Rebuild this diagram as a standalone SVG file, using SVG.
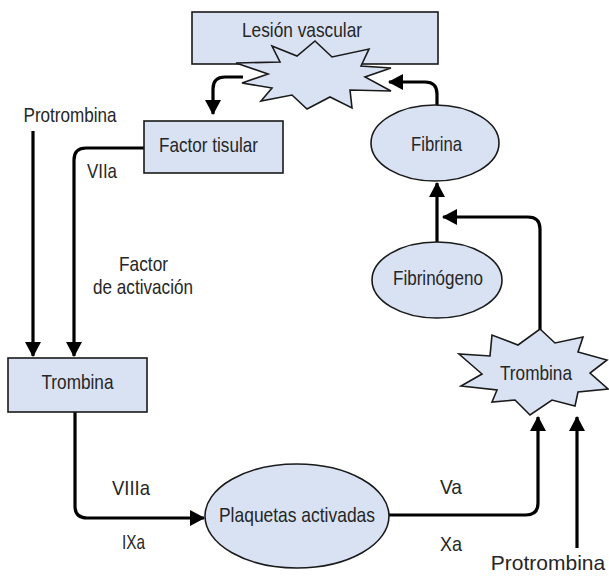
<svg xmlns="http://www.w3.org/2000/svg" width="609" height="576" viewBox="0 0 609 576">
<defs>
<style>
.shape{fill:#d9e2f3;stroke:#1a1a1a;stroke-width:1.6}
.lbl{font-family:"Liberation Sans Narrow","Liberation Sans",Arial,sans-serif;font-size:21px;fill:#262626;text-anchor:middle}
.con{fill:none;stroke:#000;stroke-width:3.2;stroke-linejoin:round}
</style>
<marker id="ah" markerUnits="userSpaceOnUse" markerWidth="16" markerHeight="18" refX="14" refY="8" orient="auto">
<path d="M0,0 L15,8 L0,16 z" fill="#000"/>
</marker>
</defs>
<rect width="609" height="576" fill="#fff"/>

<g id="connectors">
<path class="con" d="M33,131 V356" marker-end="url(#ah)"/>
<path class="con" d="M144,148 H86 Q74,148 74,160 V356" marker-end="url(#ah)"/>
<path class="con" d="M243,77 H225 Q213,77 213,89 V114" marker-end="url(#ah)"/>
<path class="con" d="M437,106 V94 Q437,82 425,82 H389" marker-end="url(#ah)"/>
<path class="con" d="M437,243 V183" marker-end="url(#ah)"/>
<path class="con" d="M540,331 V229 Q540,217 528,217 H443" marker-end="url(#ah)"/>
<path class="con" d="M75,412 V506 Q75,518 87,518 H204" marker-end="url(#ah)"/>
<path class="con" d="M389,515 H526 Q538,515 538,503 V417" marker-end="url(#ah)"/>
<path class="con" d="M577,548 V417" marker-end="url(#ah)"/>
</g>

<g id="lesion">
<rect class="shape" x="192" y="12" width="246" height="52"/>
<polygon class="shape" points="272,46 297,56 315,41 332,57 369,49 361,66 391,68 365,77 391,91 350,90 352,108 330,97 307,109 292,95 261,101 272,88 242,83 268,74 236,63 280,62"/>
<text class="lbl" x="302" y="37" textLength="120" lengthAdjust="spacingAndGlyphs">Lesión vascular</text>
</g>

<g id="protrombina1">
<text class="lbl" x="70" y="122" textLength="93" lengthAdjust="spacingAndGlyphs">Protrombina</text>
</g>

<g id="factor-tisular">
<rect class="shape" x="144" y="121" width="139" height="52"/>
<text class="lbl" x="208.5" y="152" textLength="99" lengthAdjust="spacingAndGlyphs">Factor tisular</text>
</g>

<g id="labels-left">
<text class="lbl" x="102" y="178" textLength="30" lengthAdjust="spacingAndGlyphs">VIIa</text>
<text class="lbl" x="143.5" y="271" textLength="49" lengthAdjust="spacingAndGlyphs">Factor</text>
<text class="lbl" x="143" y="294" textLength="100" lengthAdjust="spacingAndGlyphs">de activación</text>
</g>

<g id="fibrina">
<ellipse class="shape" cx="435" cy="143" rx="64" ry="38"/>
<text class="lbl" x="436.5" y="151" textLength="51" lengthAdjust="spacingAndGlyphs">Fibrina</text>
</g>

<g id="fibrinogeno">
<ellipse class="shape" cx="437" cy="280" rx="65" ry="38"/>
<text class="lbl" x="438" y="285" textLength="90" lengthAdjust="spacingAndGlyphs">Fibrinógeno</text>
</g>

<g id="trombina-rect">
<rect class="shape" x="8" y="358" width="139" height="54"/>
<text class="lbl" x="77.5" y="389" textLength="72" lengthAdjust="spacingAndGlyphs">Trombina</text>
</g>

<g id="labels-bottom">
<text class="lbl" x="131" y="495" textLength="38" lengthAdjust="spacingAndGlyphs">VIIIa</text>
<text class="lbl" x="133.5" y="549" textLength="23" lengthAdjust="spacingAndGlyphs">IXa</text>
<text class="lbl" x="451" y="494" textLength="22" lengthAdjust="spacingAndGlyphs">Va</text>
<text class="lbl" x="451" y="551" textLength="22" lengthAdjust="spacingAndGlyphs">Xa</text>
</g>

<g id="plaquetas">
<ellipse class="shape" cx="297" cy="516" rx="92" ry="52"/>
<text class="lbl" x="297" y="522" textLength="156" lengthAdjust="spacingAndGlyphs">Plaquetas activadas</text>
</g>

<g id="trombina-star">
<polygon class="shape" points="540,329 555,343 583,337 578,352 607,360 590,373 608,389 578,392 575,406 552,400 530,415 515,400 492,402 497,390 461,386 482,374 459,354 490,356 492,335 518,345"/>
<text class="lbl" x="536" y="380" textLength="72" lengthAdjust="spacingAndGlyphs">Trombina</text>
</g>

<g id="protrombina2">
<text class="lbl" x="548" y="570" font-size="18">Protrombina</text>
</g>
</svg>
